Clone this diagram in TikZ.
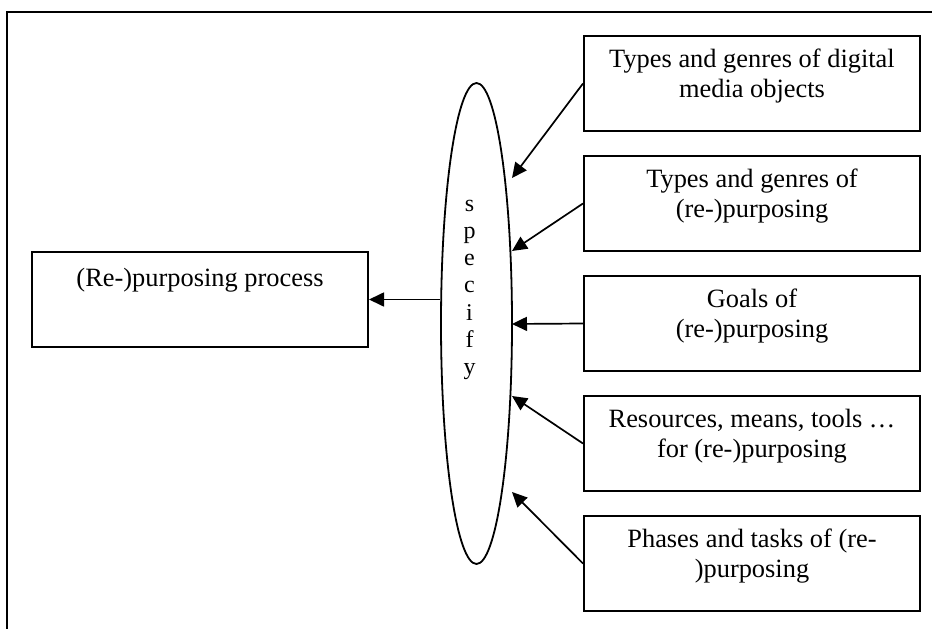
\documentclass[tikz,border=0pt]{standalone}
\usepackage{fontspec}
\setmainfont{Liberation Serif}
\usetikzlibrary{shapes.geometric,arrows.meta}

\begin{document}
\begin{tikzpicture}[x=1pt,y=-1pt,
		box/.style={draw,line width=2pt,rectangle,minimum width=336pt,minimum height=95pt,inner sep=0pt},
		boxtext/.style={anchor=north,yshift=-14pt,inner sep=0pt,align=center,font=\fontsize{26.4}{30}\selectfont,
			execute at begin node=\strut,execute at end node=\strut},
		arr/.style={line width=1.7pt,-{Triangle[length=15pt,width=14pt]}}]
	\useasboundingbox (0,0) rectangle (932,629);
	\draw[line width=2.2pt] (932,12) -- (7,12) -- (7,629);
		\node[draw,ellipse,line width=1.8pt,minimum width=71pt,minimum height=481pt,inner sep=0pt] (sp) at (476.5,323.5) {};
		\node[anchor=north,inner sep=0pt,align=center,font=\fontsize{24}{27.2}\selectfont] (sptxt) at (469.5,192) {\strut s\\p\\e\\c\\i\\f\\y\strut};
		\node[box] (lb) at (200,299.5) {};
		\node[boxtext] (lt) at (lb.north) {(Re-)purposing process};
		\node[box] (b1) at (752,83.5) {};
		\node[boxtext] (t1) at (b1.north) {Types and genres of digital\\media objects};
		\node[box] (b2) at (752,203.5) {};
		\node[boxtext] (t2) at (b2.north) {Types and genres of\\(re-)purposing};
		\node[box] (b3) at (752,323.5) {};
		\node[boxtext] (t3) at (b3.north) {Goals of\\(re-)purposing};
		\node[box] (b4) at (752,443.5) {};
		\node[boxtext] (t4) at (b4.north) {Resources, means, tools …\\for (re-)purposing};
		\node[box] (b5) at (752,563.5) {};
		\node[boxtext] (t5) at (b5.north) {Phases and tasks of (re-\\)purposing};
	\foreach \i/\y in {1/178,2/251,3/324,4/396,5/492}{
		\coordinate (tip\i) at (512,\y);
		\draw[arr] (b\i.west) -- (tip\i);
	}
	\draw[arr] (sp.west |- lb.east) -- (lb.east);
\end{tikzpicture}
\end{document}
